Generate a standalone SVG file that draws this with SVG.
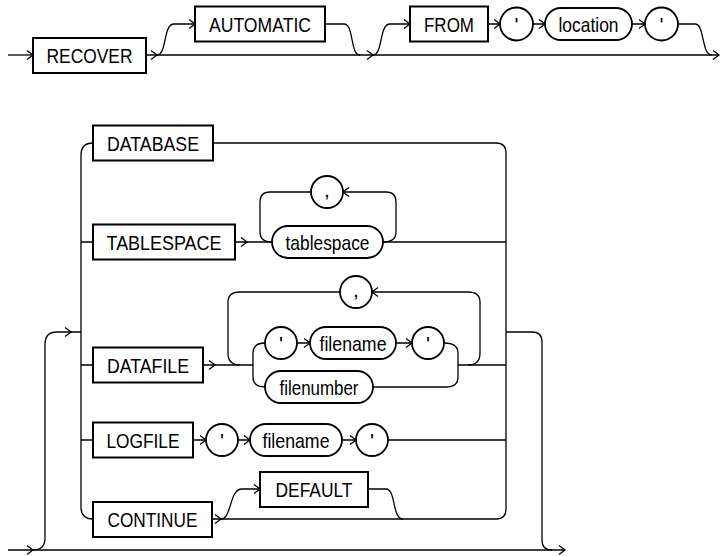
<svg xmlns="http://www.w3.org/2000/svg" xmlns:xlink="http://www.w3.org/1999/xlink" width="721" height="556" viewBox="0 0 721 556">
<style>
.ln{fill:none;stroke:#000;stroke-width:1.3}
.kw{fill:#fff;stroke:#000;stroke-width:2}
.nt{fill:#fff;stroke:#000;stroke-width:1.8}
.ah{fill:none;stroke:#000;stroke-width:1.3}
text{font-family:"Liberation Sans Narrow","Liberation Sans",Arial,sans-serif;font-size:21px;fill:#000;text-anchor:middle}
</style>
<defs>
<path id="ar" class="ah" d="M-6,-4.5 L0,0 L-6,4.5"/>
<path id="al" class="ah" d="M6,-4.5 L0,0 L6,4.5"/>
</defs>
<rect width="721" height="556" fill="#fff"/>
<g id="connectors">
<path class="ln" d="M8,55 L33,55"/>
<path class="ln" d="M146,55 L719,55"/>
<path class="ln" d="M157,55 C167,55 163,24 174,24 L195,24"/>
<path class="ln" d="M325,24 L344,24 C354,24 350,55 360,55"/>
<path class="ln" d="M373,55 C383,55 379,24 390,24 L410,24"/>
<path class="ln" d="M488,24 L500,24 M533,24 L545,24 M632,24 L645,24"/>
<path class="ln" d="M678,24 L695,24 C705,24 701,55 712,55"/>
<use xlink:href="#ar" x="33" y="55"/>
<use xlink:href="#ar" x="157" y="55"/>
<use xlink:href="#ar" x="373" y="55"/>
<use xlink:href="#ar" x="719" y="55"/>
<use xlink:href="#ar" x="195" y="24"/>
<use xlink:href="#ar" x="410" y="24"/>
<use xlink:href="#ar" x="500" y="24"/>
<use xlink:href="#ar" x="545" y="24"/>
<use xlink:href="#ar" x="645" y="24"/>

<path class="ln" d="M93,143 Q81,143 81,155 L81,507 Q81,519 93,519"/>
<path class="ln" d="M213,143 L496,143 Q506,143 506,153 L506,509 Q506,519 496,519 L212,519"/>
<path class="ln" d="M81,242 L93,242 M81,365 L93,365 M81,440 L93,440"/>
<path class="ln" d="M235,242 L272,242 M383,242 L506,242"/>
<path class="ln" d="M272,242 Q260,242 260,232 L260,202 Q260,192 270,192 L311,192"/>
<path class="ln" d="M343,192 L386,192 Q396,192 396,202 L396,232 Q396,242 383,242"/>
<use xlink:href="#ar" x="247" y="242"/>
<use xlink:href="#al" x="343" y="192"/>

<path class="ln" d="M33,550 Q45,550 45,538 L45,344 Q45,332 57,332 L81,332"/>
<use xlink:href="#ar" x="71" y="332"/>
<path class="ln" d="M506,332 L532,332 Q542,332 542,342 L542,540 Q542,550 552,550"/>
<path class="ln" d="M8,550 L565,550"/>
<use xlink:href="#ar" x="33" y="550"/>
<use xlink:href="#ar" x="565" y="550"/>

<path class="ln" d="M203,365 L253,365 M458,365 L506,365"/>
<use xlink:href="#ar" x="215" y="365"/>
<path class="ln" d="M240,365 Q228,365 228,353 L228,302 Q228,292 240,292 L340,292"/>
<path class="ln" d="M372,292 L468,292 Q480,292 480,302 L480,353 Q480,365 468,365"/>
<use xlink:href="#al" x="372" y="292"/>
<path class="ln" d="M265,343 Q253,343 253,353 L253,377 Q253,387 265,387"/>
<path class="ln" d="M297,343 L310,343 M396,343 L412,343"/>
<path class="ln" d="M444,343 Q458,343 458,353 L458,377 Q458,387 446,387 L373,387"/>
<use xlink:href="#ar" x="310" y="343"/>
<use xlink:href="#ar" x="412" y="343"/>

<path class="ln" d="M193,440 L206,440 M238,440 L250,440 M342,440 L356,440 M388,440 L506,440"/>
<use xlink:href="#ar" x="206" y="440"/>
<use xlink:href="#ar" x="250" y="440"/>
<use xlink:href="#ar" x="356" y="440"/>

<path class="ln" d="M221,519 C232,519 229,489 242,489 L260,489"/>
<path class="ln" d="M368,489 L386,489 C396,489 392,519 403,519"/>
<use xlink:href="#ar" x="221" y="519"/>
<use xlink:href="#ar" x="260" y="489"/>
</g>

<g id="n-recover"><rect class="kw" x="33" y="38" width="113" height="35"/><text x="89.5" y="63" textLength="86" lengthAdjust="spacingAndGlyphs">RECOVER</text></g>
<g id="n-automatic"><rect class="kw" x="195" y="6.5" width="130" height="35"/><text x="260" y="31.5" textLength="102" lengthAdjust="spacingAndGlyphs">AUTOMATIC</text></g>
<g id="n-from"><rect class="kw" x="410" y="6.5" width="78" height="35"/><text x="449" y="31.5" textLength="50" lengthAdjust="spacingAndGlyphs">FROM</text></g>
<g id="n-q1"><circle class="nt" cx="516.5" cy="24" r="16.5"/><text x="516.5" y="31.5">'</text></g>
<g id="n-location"><rect class="nt" x="545" y="8" width="87" height="32" rx="16"/><text x="588.5" y="31.5" textLength="60" lengthAdjust="spacingAndGlyphs">location</text></g>
<g id="n-q2"><circle class="nt" cx="661.5" cy="24" r="16.5"/><text x="661.5" y="31.5">'</text></g>

<g id="n-database"><rect class="kw" x="93" y="125.5" width="120" height="35"/><text x="153" y="150.5" textLength="92" lengthAdjust="spacingAndGlyphs">DATABASE</text></g>
<g id="n-tablespace-kw"><rect class="kw" x="93" y="224.5" width="142" height="35"/><text x="164" y="249.5" textLength="115" lengthAdjust="spacingAndGlyphs">TABLESPACE</text></g>
<g id="n-comma1"><circle class="nt" cx="327" cy="192" r="16"/><text x="327" y="197">,</text></g>
<g id="n-tablespace"><rect class="nt" x="272" y="226" width="111" height="32" rx="16"/><text x="327.5" y="249.5" textLength="84" lengthAdjust="spacingAndGlyphs">tablespace</text></g>

<g id="n-datafile"><rect class="kw" x="93" y="347.5" width="110" height="35"/><text x="148" y="372.5" textLength="82" lengthAdjust="spacingAndGlyphs">DATAFILE</text></g>
<g id="n-comma2"><circle class="nt" cx="356" cy="292" r="16"/><text x="356" y="297">,</text></g>
<g id="n-q3"><circle class="nt" cx="281" cy="343" r="16"/><text x="281" y="350.5">'</text></g>
<g id="n-filename1"><rect class="nt" x="310" y="327" width="86" height="32" rx="16"/><text x="353" y="350.5" textLength="67" lengthAdjust="spacingAndGlyphs">filename</text></g>
<g id="n-q4"><circle class="nt" cx="428" cy="343" r="16"/><text x="428" y="350.5">'</text></g>
<g id="n-filenumber"><rect class="nt" x="265" y="371" width="108" height="32" rx="16"/><text x="319" y="394.5" textLength="79" lengthAdjust="spacingAndGlyphs">filenumber</text></g>

<g id="n-logfile"><rect class="kw" x="93" y="422.5" width="100" height="35"/><text x="143" y="447.5" textLength="73" lengthAdjust="spacingAndGlyphs">LOGFILE</text></g>
<g id="n-q5"><circle class="nt" cx="222" cy="440" r="16"/><text x="222" y="447.5">'</text></g>
<g id="n-filename2"><rect class="nt" x="250" y="424" width="92" height="32" rx="16"/><text x="296" y="447.5" textLength="67" lengthAdjust="spacingAndGlyphs">filename</text></g>
<g id="n-q6"><circle class="nt" cx="372" cy="440" r="16"/><text x="372" y="447.5">'</text></g>

<g id="n-default"><rect class="kw" x="260" y="472" width="108" height="35"/><text x="314" y="497" textLength="77" lengthAdjust="spacingAndGlyphs">DEFAULT</text></g>
<g id="n-continue"><rect class="kw" x="93" y="502" width="119" height="35"/><text x="152.5" y="527" textLength="90" lengthAdjust="spacingAndGlyphs">CONTINUE</text></g>
</svg>
